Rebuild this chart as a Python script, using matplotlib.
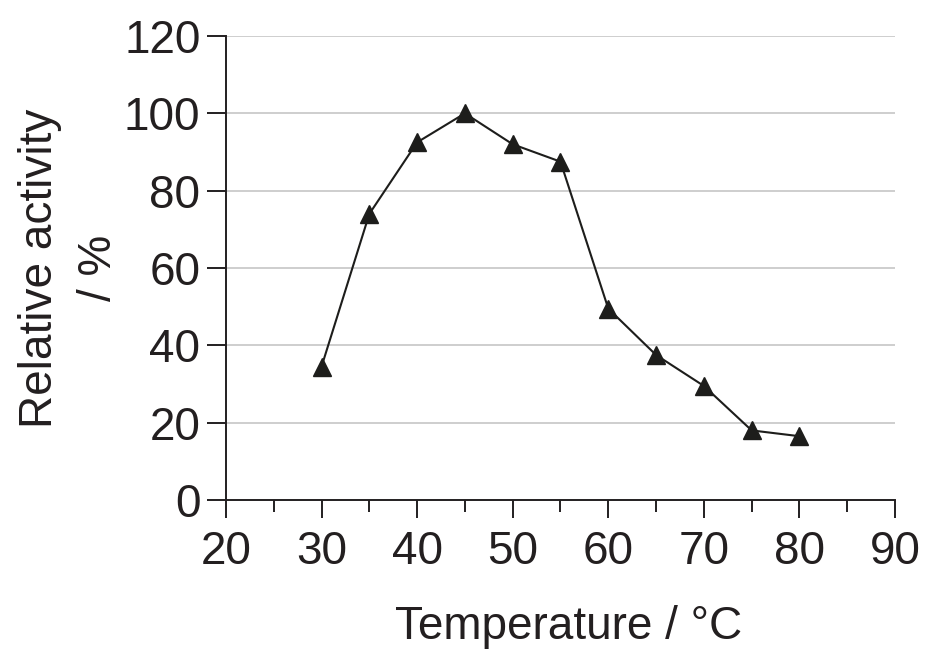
import matplotlib.pyplot as plt
from matplotlib.ticker import MultipleLocator

temperature = [30, 35, 40, 45, 50, 55, 60, 65, 70, 75, 80]
activity = [34.5, 74, 92.5, 100, 92, 87.5, 49.5, 37.5, 29.5, 18, 16.5]

x_ticks = [20, 30, 40, 50, 60, 70, 80, 90]
y_ticks = [0, 20, 40, 60, 80, 100, 120]

ink = "#231f20"
plt.rcParams['font.family'] = ['Liberation Sans', 'DejaVu Sans']

fig = plt.figure(figsize=(9.33, 6.56), dpi=100)
ax = fig.add_axes([0.2422, 0.2378, 0.9593 - 0.2422, 0.9451 - 0.2378])

# horizontal grid lines, not at zero
for y in y_ticks[1:]:
    ax.axhline(y, color="#c6c6c6", lw=1.2, zorder=1)

ax.plot(temperature, activity, color="#1d1d1b", lw=1.5, marker="^",
        markersize=13.5, markerfacecolor="#1d1d1b", markeredgecolor="#1d1d1b",
        zorder=3, clip_on=False)

ax.set_xlim(20, 90)
ax.set_ylim(0, 120)
ax.set_xticks(x_ticks)
ax.set_yticks(y_ticks)
ax.xaxis.set_minor_locator(MultipleLocator(5))

for side in ["top", "right"]:
    ax.spines[side].set_visible(False)
for side in ["left", "bottom"]:
    ax.spines[side].set_linewidth(1.4)
    ax.spines[side].set_color(ink)

ax.tick_params(axis="x", which="major", direction="out", length=12.7, width=1.4,
               color=ink, labelsize=33, labelcolor=ink, pad=9)
ax.tick_params(axis="x", which="minor", direction="out", length=8.9, width=1.4,
               color=ink)
ax.tick_params(axis="y", which="major", direction="out", length=13.4, width=1.4,
               color=ink, labelsize=33, labelcolor=ink, pad=5)

ax.set_xlabel("Temperature / °C", fontsize=33, color=ink, labelpad=22)
ax.xaxis.label.set_x(0.512)
ax.set_ylabel("Relative activity\n/ %", fontsize=33, color=ink, labelpad=2,
              linespacing=1.45)

fig.savefig("out.png", dpi=100)
